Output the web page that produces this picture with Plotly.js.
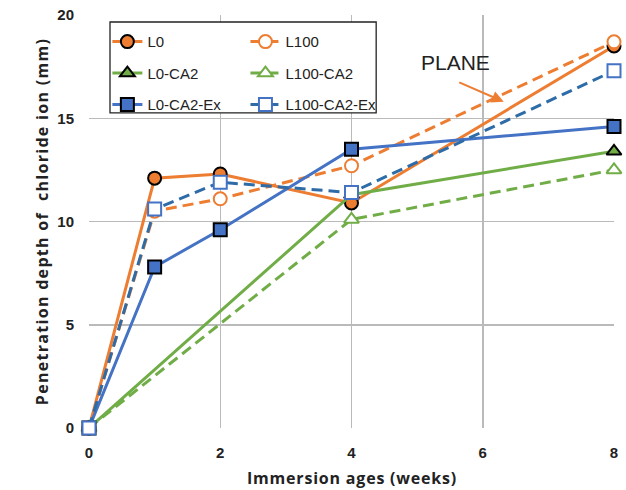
<!DOCTYPE html>
<html>
<head>
<meta charset="utf-8">
<script src="https://cdn.plot.ly/plotly-3.0.1.min.js"></script>
<style>
html,body{margin:0;padding:0;background:#fff;}
#chart{width:626px;height:490px;}
.g-ytitle text{letter-spacing:1.3px;}
</style>
</head>
<body>
<div id="chart"></div>
<script>
// Data
const weeks = [0, 1, 2, 4, 8];
const L0 = [0, 12.1, 12.3, 10.9, 18.5];
const L100 = [0, 10.5, 11.1, 12.7, 18.7];
const L0_CA2 = [0, null, null, 11.3, 13.4];
const L100_CA2 = [0, null, null, 10.1, 12.5];
const L0_CA2_Ex = [0, 7.8, 9.6, 13.5, 14.6];
const L100_CA2_Ex = [0, 10.6, 11.9, 11.4, 17.3];
const seriesNames = ['L0', 'L100', 'L0-CA2', 'L100-CA2', 'L0-CA2-Ex', 'L100-CA2-Ex'];
const xTicks = [0, 2, 4, 6, 8];
const yTicks = [0, 5, 10, 15, 20];
const xTitle = 'Immersion ages (weeks)';
const yTitle = 'Penetration depth of&nbsp; chloride ion (mm)';

const ORANGE = '#ED7D31', GREEN = '#70AD47', BLUE = '#4472C4', DBLUE = '#2E6CA8';
const FONT = '"Liberation Sans Narrow", "Arial Narrow", "Liberation Sans", sans-serif';
const TFONT = '"Open Sans", "Liberation Sans", sans-serif';
const dash = '11px,6px';

function tr(name, y, lineColor, dashStyle, symbol, mFill, mLine, legend) {
  return {
    x: weeks, y: y, name: name, type: 'scatter', mode: 'lines+markers',
    connectgaps: true, cliponaxis: false, legend: legend, legendgroup: name,
    line: {color: lineColor, width: 3, dash: dashStyle},
    marker: {symbol: symbol, size: 13, color: mFill, line: {color: mLine, width: 2}}
  };
}

const data = [
  tr(seriesNames[0], L0, ORANGE, 'solid', 'circle', ORANGE, '#000', 'legend'),
  tr(seriesNames[1], L100, ORANGE, dash, 'circle', '#fff', ORANGE, 'legend2'),
  tr(seriesNames[2], L0_CA2, GREEN, 'solid', 'triangle-up', GREEN, '#000', 'legend'),
  tr(seriesNames[3], L100_CA2, GREEN, dash, 'triangle-up', '#fff', GREEN, 'legend2'),
  tr(seriesNames[4], L0_CA2_Ex, BLUE, 'solid', 'square', BLUE, '#000', 'legend'),
  tr(seriesNames[5], L100_CA2_Ex, DBLUE, dash, 'square', '#fff', BLUE, 'legend2')
];

const legendCommon = {
  bgcolor: 'rgba(0,0,0,0)', borderwidth: 0, tracegroupgap: 9,
  font: {family: FONT, size: 15, color: '#222'},
  xanchor: 'left', yanchor: 'top', orientation: 'v'
};

const layout = {
  width: 626, height: 490,
  margin: {l: 89, r: 12, t: 15, b: 62},
  paper_bgcolor: '#fff', plot_bgcolor: '#fff',
  showlegend: true,
  font: {family: FONT, color: '#222'},
  xaxis: {
    range: [0, 8], tickvals: xTicks, ticktext: xTicks.map(String),
    showgrid: true, gridcolor: '#bababa', gridwidth: 1.5,
    zeroline: false, showline: false, ticks: '',
    ticklabelstandoff: 14,
    tickfont: {family: FONT, size: 15, color: '#222', weight: 'bold'},
    automargin: false
  },
  yaxis: {
    range: [0, 20], tickvals: yTicks, ticktext: yTicks.map(String),
    showgrid: true, gridcolor: '#bababa', gridwidth: 1.5,
    zeroline: false, showline: false, ticks: '',
    ticklabelstandoff: 14,
    tickfont: {family: FONT, size: 15, color: '#222', weight: 'bold'},
    title: {text: yTitle, standoff: 4,
            font: {family: TFONT, size: 16, color: '#222', weight: 'bold'}},
    automargin: false
  },
  legend: Object.assign({}, legendCommon, {x: 0.035, y: 0.975}),
  legend2: Object.assign({}, legendCommon, {x: 0.298, y: 0.975}),
  shapes: [{
    type: 'rect', xref: 'paper', yref: 'paper', layer: 'above',
    x0: 0.04, x1: 0.547, y0: 0.763, y1: 0.983,
    line: {color: '#222', width: 1.3}, fillcolor: '#fff'
  }],
  annotations: [
    {x: 0.5, y: -0.121, xref: 'paper', yref: 'paper',
     text: '<span style="letter-spacing:0.8px">' + xTitle + '</span>', showarrow: false,
     xanchor: 'center', yanchor: 'middle',
     font: {family: TFONT, size: 16, color: '#222', weight: 'bold'}},
    {x: 5.58, y: 17.7, xref: 'x', yref: 'y', text: 'PLANE', showarrow: false,
     font: {family: '"Liberation Sans", sans-serif', size: 21, color: '#222'}},
    {x: 6.32, y: 15.8, xref: 'x', yref: 'y', text: '', showarrow: true,
     ax: -46, ay: -20, arrowcolor: ORANGE, arrowwidth: 2, arrowhead: 2, arrowsize: 1.2}
  ]
};

Plotly.newPlot('chart', data, layout, {displayModeBar: false, staticPlot: true});
</script>
</body>
</html>
